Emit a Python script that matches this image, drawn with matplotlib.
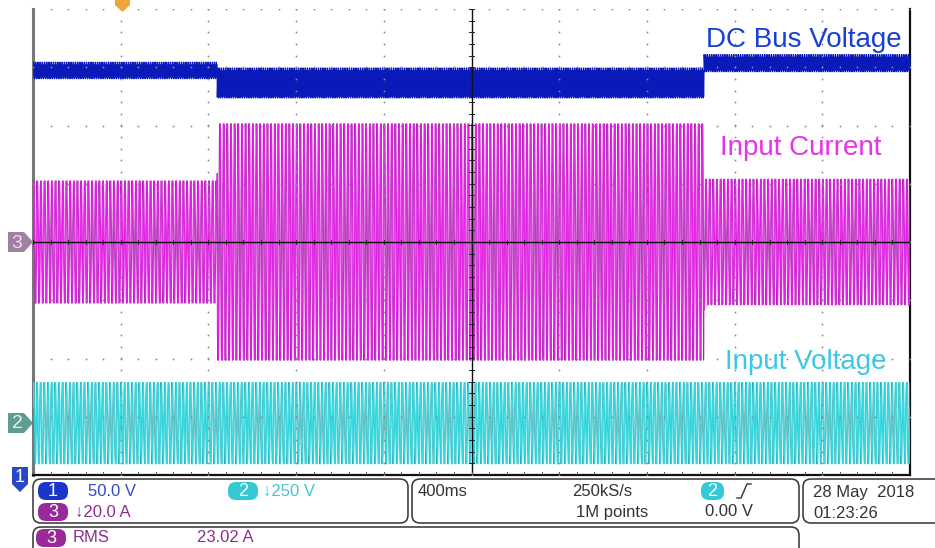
import numpy as np
import matplotlib
matplotlib.use("Agg")
import matplotlib.pyplot as plt
from matplotlib.patches import FancyBboxPatch, Polygon

plt.rcParams['font.family'] = ['Liberation Sans', 'DejaVu Sans']

# scope settings
time_per_div = 0.4          # s/div (400ms)
line_freq = 60.0            # Hz, mains
step_times = [-1.16, 1.06]  # s, load steps (trigger at 0)

# ch1 DC bus voltage band, screen divisions, one value per segment
bus_top = [3.09, 2.99, 3.22]
bus_bottom = [2.80, 2.47, 2.92]

# ch3 input current peak, divisions
cur_peak = [1.05, 2.03, 1.08]
cur_offset = 0.0

# ch2 input voltage peak, divisions
volt_peak = [0.70, 0.70, 0.70]
volt_offset = -3.11

trace_labels = ["DC Bus Voltage", "Input Current", "Input Voltage"]


fig = plt.figure(figsize=(9.35, 5.48), dpi=100)
W, H = 935, 548
ax = fig.add_axes([33 / W, (H - 475) / H, 877 / W, 466 / H])
ax.set_facecolor("none")

t = np.linspace(-5 * time_per_div, 5 * time_per_div, 30000)
seg = np.searchsorted(step_times, t)

# DC bus: ripple at twice line frequency
top = np.array(bus_top)[seg]
bot = np.array(bus_bottom)[seg]
mid = (top + bot) / 2
half = (top - bot) / 2
ax.fill_between(t, bot + 0.03, top - 0.03, color="#0d1fbf", lw=0, zorder=3)
ax.plot(t, mid + half * np.sin(2 * np.pi * 2 * line_freq * t), color="#0a1ab8", lw=0.7, zorder=3)

# input current (two intensity levels like the scope display)
amp_c = np.array(cur_peak)[seg]
ax.plot(t, cur_offset + amp_c * np.sin(2 * np.pi * line_freq * t + 1.3),
        color="#a22ca8", lw=0.55, zorder=3)
ax.plot(t, cur_offset + amp_c * np.sin(2 * np.pi * line_freq * t),
        color="#e020e2", lw=0.8, zorder=3)

# input voltage
amp_v = np.array(volt_peak)[seg]
ax.plot(t, volt_offset + amp_v * np.sin(2 * np.pi * line_freq * t + 1.7),
        color="#2a9ea6", lw=0.5, zorder=3)
ax.plot(t, volt_offset + amp_v * np.sin(2 * np.pi * line_freq * t + 0.4),
        color="#33d8de", lw=0.8, zorder=3)

# graticule
xs_major = np.arange(-5, 6) * time_per_div
ys_major = np.arange(-4, 5)
fine_x = np.arange(-5, 5.01, 0.2) * time_per_div
fine_y = np.arange(-4, 4.01, 0.2)
for xm in xs_major[1:-1]:
    ax.plot(np.full_like(fine_y, xm), fine_y, ls="none", marker="o", ms=1.3,
            color="#8a8a8a", mew=0, zorder=4)
for ym in ys_major[1:]:
    ax.plot(fine_x, np.full_like(fine_x, ym), ls="none", marker="o", ms=1.3,
            color="#8a8a8a", mew=0, zorder=4)
ax.axvline(0, color="#111111", lw=1.0, zorder=4)
ax.axhline(0, color="#111111", lw=1.0, zorder=4)
tick_h = 0.04
for fx in fine_x:
    ax.plot([fx, fx], [-tick_h, tick_h], color="#222222", lw=0.7, zorder=4)
for fy in fine_y:
    ax.plot([-0.01, 0.01], [fy, fy], color="#222222", lw=0.7, zorder=4)
for fx in fine_x:
    ax.plot([fx, fx], [-4, -4 + tick_h * 1.5], color="#555555", lw=0.7, zorder=4)

ax.set_xlim(-5 * time_per_div, 5 * time_per_div)
ax.set_ylim(-4, 4)
ax.set_xticks([])
ax.set_yticks([])
ax.spines["top"].set_visible(False)
ax.spines["left"].set_color("#777777")
ax.spines["left"].set_linewidth(2.2)
ax.spines["right"].set_color("#111111")
ax.spines["right"].set_linewidth(1.6)
ax.spines["bottom"].set_color("#111111")
ax.spines["bottom"].set_linewidth(1.6)

# overlay in pixel coords for labels and scope readouts
ui = fig.add_axes([0, 0, 1, 1], zorder=5)
ui.set_xlim(0, W)
ui.set_ylim(H, 0)
ui.axis("off")
ui.patch.set_alpha(0)

ui.text(706, 40, trace_labels[0], color="#1a3ed6", fontsize=20, va="center", ha="left")
ui.text(720, 148, trace_labels[1], color="#e634e6", fontsize=20, va="center", ha="left")
ui.text(725, 362, trace_labels[2], color="#3cc8e4", fontsize=20, va="center", ha="left")

# channel markers
ui.add_patch(Polygon([(8, 232), (24, 232), (33, 242), (24, 252), (8, 252)], closed=True,
                     color="#a17fa1", lw=0))
ui.text(17, 243, "3", color="#eadfea", fontsize=14, ha="center", va="center")
ui.add_patch(Polygon([(8, 413), (24, 413), (33, 423), (24, 433), (8, 433)], closed=True,
                     color="#5f9d94", lw=0))
ui.text(17, 424, "2", color="#e3f0ec", fontsize=14, ha="center", va="center")
ui.add_patch(Polygon([(12, 467), (28, 467), (28, 484), (20, 492), (12, 484)], closed=True,
                     color="#2848c8", lw=0))
ui.text(20, 478, "1", color="white", fontsize=13, ha="center", va="center")
ui.add_patch(Polygon([(115, 0), (130, 0), (130, 5), (122.5, 12), (115, 5)], closed=True,
                     color="#f0a53a", lw=0))


def box(x0, y0, x1, y1):
    ui.add_patch(FancyBboxPatch((x0, y0), x1 - x0, y1 - y0,
                                boxstyle="round,pad=0,rounding_size=8",
                                fc="none", ec="#333333", lw=1.1))


def badge(x0, y0, x1, y1, color, label):
    ui.add_patch(FancyBboxPatch((x0, y0), x1 - x0, y1 - y0,
                                boxstyle="round,pad=0,rounding_size=8",
                                fc=color, ec="none"))
    ui.text((x0 + x1) / 2, (y0 + y1) / 2 + 0.5, label, color="white", fontsize=13,
            ha="center", va="center")


box(33, 479, 408, 523)
box(412, 479, 799, 523)
box(803, 479, 950, 523)
box(33, 527, 799, 560)

badge(38, 482, 68, 500, "#1a35c8", "1")
ui.text(88, 491, "50.0 V", color="#3848c8", fontsize=12, va="center")
badge(228, 482, 258, 500, "#35c9d6", "2")
ui.text(263, 491, "\u2193250 V", color="#45c6d6", fontsize=12, va="center")
badge(38, 503, 68, 521, "#9a2a9a", "3")
ui.text(75, 512, "\u219320.0 A", color="#8e2c8e", fontsize=12, va="center")

ui.text(418, 491, "400ms", color="#333333", fontsize=12, va="center")
ui.text(572, 491, "250kS/s", color="#333333", fontsize=12, va="center")
ui.text(576, 512, "1M points", color="#333333", fontsize=12, va="center")
badge(701, 482, 724, 500, "#35c9d6", "2")
ui.plot([737, 741, 747, 751], [498, 498, 484, 484], color="#333333", lw=1.0)
ui.text(705, 512, "0.00 V", color="#333333", fontsize=12, va="center")
ui.text(813, 493, "28 May  2018", color="#333333", fontsize=12, va="center")
ui.text(813, 514, "01:23:26", color="#333333", fontsize=12, va="center")

badge(36, 529, 66, 547, "#9a2a9a", "3")
ui.text(73, 538, "RMS", color="#8e2c8e", fontsize=12, va="center")
ui.text(197, 538, "23.02 A", color="#8e2c8e", fontsize=12, va="center")

fig.savefig("out.png", dpi=100)
